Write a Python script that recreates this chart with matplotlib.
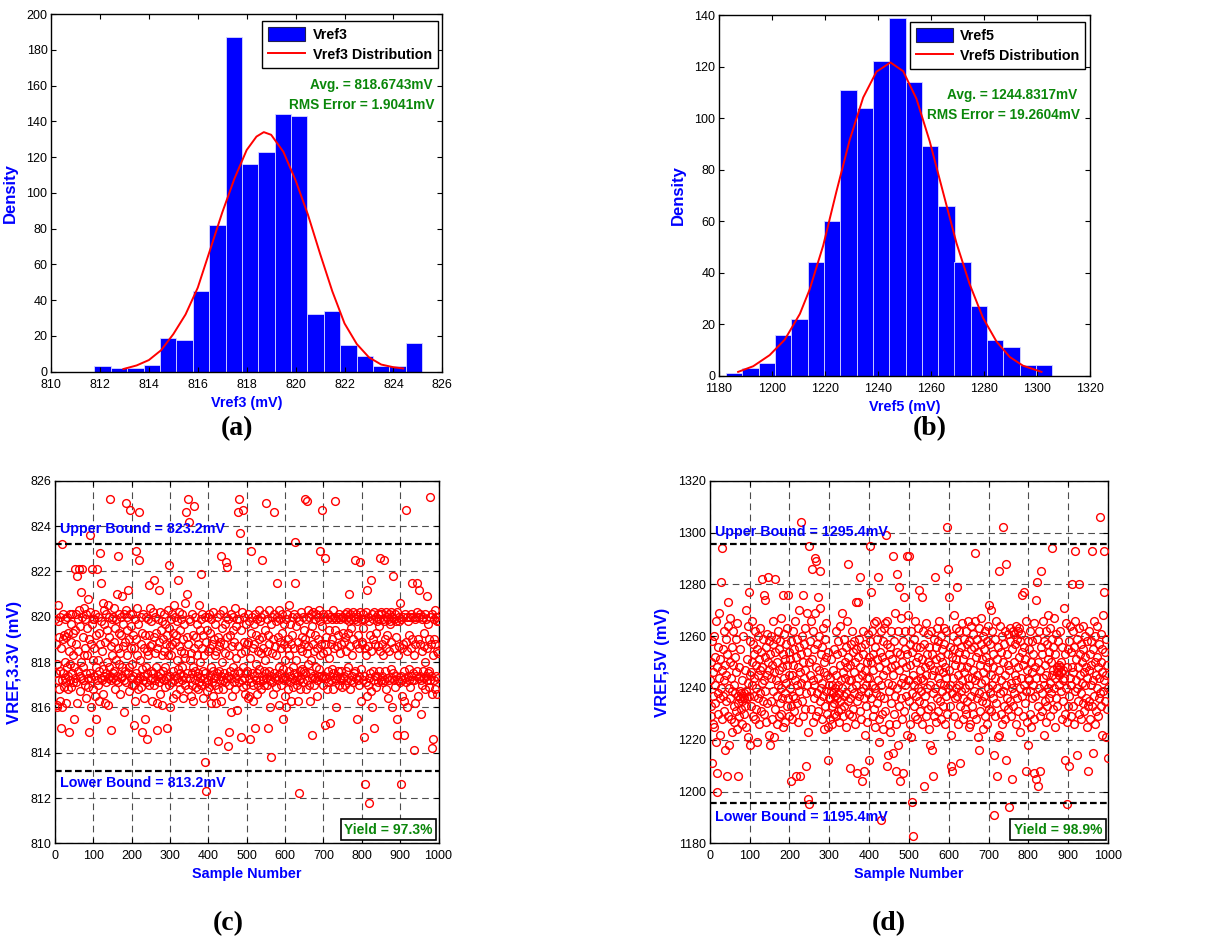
import numpy as np
import matplotlib
matplotlib.use("Agg")
import matplotlib.pyplot as plt
from matplotlib.patches import Patch
from matplotlib.lines import Line2D

plt.rcParams['font.family'] = ['Liberation Sans', 'DejaVu Sans']

# ---- (a) histogram of Vref3 ----
vref3_bins = [812.11, 812.78, 813.45, 814.12, 814.79, 815.46, 816.13, 816.80, 817.47, 818.14,
              818.81, 819.48, 820.15, 820.82, 821.49, 822.16, 822.83, 823.50, 824.17, 824.84]
vref3_counts = [3, 2, 2, 3.5, 19, 18, 45, 82, 187, 116, 123, 144, 143, 32, 34, 15, 9, 3, 3, 16]
vref3_binw = 0.671
vref3_fit_x = [812.96, 813.5, 814.0, 814.5, 815.0, 815.5, 816.0, 816.5, 817.0, 817.5, 818.0, 818.4,
               818.7, 819.0, 819.5, 820.0, 820.5, 821.0, 821.5, 822.0, 822.5, 823.0, 823.5, 824.0, 824.4]
vref3_fit_y = [1.5, 3.5, 6.5, 12, 21, 32, 47, 68, 89, 108, 124, 131.5,
               134, 132.5, 123, 107, 88, 66, 45, 27, 15.5, 8, 4, 2.5, 1.8]

# ---- (b) histogram of Vref5 ----
vref5_bins = [1185.9, 1192.0, 1198.2, 1204.3, 1210.5, 1216.6, 1222.8, 1229.0, 1235.1, 1241.3,
              1247.4, 1253.6, 1259.7, 1265.9, 1272.0, 1278.2, 1284.3, 1290.5, 1296.6, 1302.8]
vref5_counts = [1, 3, 5, 16, 22, 44, 60, 111, 104, 122, 139, 114, 89, 66, 44, 27, 14, 11, 4, 4]
vref5_binw = 6.155
vref5_fit_x = [1187.3, 1193, 1199.2, 1204.9, 1210.6, 1214.3, 1219.4, 1224.4, 1229.4, 1234.5, 1239.5, 1244.8,
               1249.6, 1254.6, 1259.6, 1264.7, 1269.7, 1274.7, 1279.7, 1284.8, 1289.8, 1294.8, 1301.8]
vref5_fit_y = [1.5, 3.7, 8, 14, 24, 33.5, 50.5, 71.5, 91.5, 108, 118, 121.6,
               118.2, 107.5, 91, 71, 51.5, 35.5, 22.5, 13.3, 7.3, 3.9, 1.5]

# ---- (c) VREF,3.3V per sample, in units of 0.1 mV ----
vref3_samples_01mV = """
8199 8188 8175 8161 8179 8160 8172 8198 8205 8168 8191 8176 8200 8163 8186 8151 8232 8172 8160 8190
8175 8201 8169 8192 8180 8173 8199 8162 8191 8171 8200 8178 8168 8193 8174 8185 8149 8172 8201 8179
8197 8169 8189 8175 8201 8183 8171 8193 8155 8178
8221 8194 8173 8201 8188 8171 8218 8162 8199 8176 8185 8203 8221 8174 8196 8167 8180 8211 8173 8200
8221 8178 8191 8172 8204 8183 8170 8199 8186 8164 8201 8175 8195 8183 8173 8208 8169 8190 8149 8236
8175 8202 8160 8188 8173 8197 8221 8168 8181 8199
8199 8174 8186 8165 8201 8155 8178 8192 8172 8221 8181 8170 8200 8176 8193 8163 8188 8228 8173 8215
8198 8172 8185 8206 8177 8166 8197 8174 8203 8162 8189 8175 8201 8171 8194 8180 8205 8173 8161 8191
8178 8200 8174 8252 8187 8150 8172 8199 8183 8175
8200 8173 8189 8176 8204 8168 8195 8172 8181 8199 8174 8210 8186 8227 8171 8201 8179 8193 8166 8184
8200 8173 8192 8178 8209 8174 8197 8187 8158 8201 8172 8189 8176 8203 8250 8171 8194 8183 8200 8175
8212 8167 8190 8178 8247 8201 8173 8186 8196 8170
8179 8201 8174 8192 8152 8170 8186 8199 8163 8175 8229 8190 8172 8204 8183 8168 8197 8173 8246 8225
8181 8174 8200 8169 8188 8177 8193 8149 8172 8201 8186 8174 8164 8155 8192 8178 8200 8171 8185 8146
8175 8199 8183 8170 8214 8192 8172 8204 8187 8176
8198 8173 8188 8163 8202 8175 8191 8216 8170 8184 8200 8172 8193 8178 8162 8150 8186 8174 8199 8212
8171 8189 8202 8175 8166 8194 8173 8183 8198 8161 8176 8190 8201 8172 8185 8169 8197 8178 8188 8173
8151 8192 8174 8203 8183 8223 8170 8195 8160 8187
8174 8199 8183 8171 8201 8188 8164 8193 8176 8205 8172 8189 8200 8174 8166 8192 8181 8173 8198 8177
8216 8171 8187 8202 8168 8194 8175 8185 8199 8172 8178 8201 8164 8190 8174 8184 8197 8170 8206 8182
8173 8246 8191 8175 8210 8252 8188 8168 8242 8199
8181 8173 8198 8165 8184 8175 8201 8170 8192 8178 8163 8249 8186 8172 8200 8176 8191 8169 8183 8174
8197 8168 8188 8175 8205 8171 8194 8180 8173 8199 8219 8170 8186 8201 8176 8164 8192 8173 8183 8200
8136 8175 8189 8123 8171 8194 8167 8185 8200 8172
8201 8169 8186 8174 8193 8178 8162 8199 8171 8188 8176 8202 8165 8190 8173 8183 8197 8170 8162 8185
8174 8200 8175 8145 8191 8168 8187 8176 8201 8172 8189 8227 8174 8163 8195 8180 8172 8203 8168 8188
8175 8197 8171 8184 8200 8224 8173 8222 8191 8143
8174 8199 8149 8183 8170 8192 8176 8158 8201 8173 8187 8165 8194 8178 8200 8171 8189 8175 8204 8168
8182 8196 8173 8159 8199 8176 8187 8246 8171 8252 8199 8175 8237 8184 8147 8194 8172 8202 8169 8247
8178 8189 8173 8200 8166 8185 8175 8197 8170 8188
8176 8201 8164 8189 8173 8165 8198 8146 8182 8171 8193 8229 8175 8200 8170 8186 8163 8197 8174 8188
8201 8151 8172 8192 8179 8166 8199 8175 8185 8170 8203 8177 8190 8172 8198 8168 8184 8200 8174 8191
8225 8172 8186 8176 8201 8170 8194 8181 8250 8175
8173 8199 8185 8170 8192 8151 8176 8203 8188 8172 8160 8138 8197 8174 8184 8200 8171 8190 8166 8201
8175 8246 8187 8173 8198 8169 8183 8200 8215 8174 8191 8172 8203 8178 8161 8189 8175 8199 8170 8186
8201 8173 8193 8177 8155 8188 8172 8197 8165 8181
8174 8160 8199 8186 8172 8201 8168 8190 8176 8205 8183 8171 8197 8174 8188 8163 8200 8173 8192 8178
8169 8201 8186 8175 8233 8215 8172 8196 8181 8170 8200 8174 8163 8189 8172 8122 8198 8176 8186 8168
8202 8173 8191 8177 8185 8200 8171 8194 8176 8188
8252 8175 8190 8168 8199 8184 8251 8172 8203 8179 8187 8170 8200 8175 8193 8163 8181 8201 8173 8196
8148 8174 8188 8202 8170 8185 8199 8173 8192 8178 8201 8172 8186 8165 8200 8174 8190 8177 8203 8229
8183 8198 8174 8188 8247 8173 8196 8170 8184 8201
8200 8174 8188 8226 8152 8191 8173 8199 8168 8185 8176 8201 8171 8194 8182 8174 8200 8153 8188 8172
8199 8177 8190 8168 8203 8175 8186 8200 8173 8194 8251 8172 8160 8199 8187 8174 8200 8176 8192 8170
8201 8184 8173 8199 8172 8188 8176 8200 8169 8193
8200 8173 8189 8174 8201 8170 8191 8199 8176 8185 8202 8172 8200 8178 8193 8210 8198 8168 8187 8201
8172 8195 8199 8174 8183 8202 8171 8190 8200 8175 8225 8199 8176 8188 8201 8173 8155 8198 8172 8192
8200 8174 8186 8170 8202 8224 8177 8199 8163 8189
8188 8201 8172 8195 8147 8174 8199 8186 8126 8171 8202 8183 8165 8212 8170 8200 8187 8173 8118 8198
8175 8192 8216 8167 8185 8201 8160 8190 8199 8176 8172 8151 8202 8188 8174 8200 8169 8193 8198 8174
8187 8201 8171 8196 8176 8199 8185 8226 8172 8202
8201 8174 8188 8171 8199 8183 8225 8172 8198 8190 8176 8202 8168 8186 8200 8173 8192 8199 8164 8185
8201 8172 8197 8198 8177 8189 8202 8173 8160 8200 8218 8175 8199 8186 8172 8201 8169 8191 8198 8174
8155 8148 8202 8183 8172 8198 8187 8200 8171 8206
8126 8174 8199 8186 8165 8172 8200 8188 8163 8176 8148 8201 8173 8247 8189 8171 8200 8160 8185 8174
8198 8172 8192 8177 8200 8169 8186 8174 8201 8172 8190 8215 8175 8200 8141 8183 8172 8199 8162 8188
8200 8174 8215 8176 8202 8165 8190 8173 8200 8212
8201 8174 8188 8157 8172 8199 8185 8170 8200 8176 8193 8173 8187 8201 8168 8180 8174 8199 8186 8172
8209 8175 8197 8169 8190 8176 8200 8172 8253 8188 8174 8201 8166 8142 8183 8146 8199 8172 8190 8203
8168 8188 8174 8200 8166 8185 8198 8173 8184 8198
"""

# ---- (d) VREF,5V per sample, mV ----
vref5_samples_mV = """
1243 1229 1250 1233 1211 1258 1226 1246 1237 1260 1225 1252 1241 1234 1266 1219 1207 1200 1248 1238
1256 1230 1244 1269 1236 1251 1222 1240 1281 1294 1247 1228 1255 1237 1262 1243 1231 1249 1216 1259
1235 1245 1206 1253 1229 1264 1273 1240 1218 1250
1267 1236 1244 1228 1256 1239 1223 1249 1262 1233 1241 1227 1252 1238 1259 1231 1246 1265 1224 1206
1237 1234 1248 1229 1239 1236 1255 1232 1238 1226 1235 1243 1237 1260 1230 1238 1236 1247 1233 1270
1239 1225 1251 1236 1242 1221 1264 1237 1277 1245
1218 1258 1246 1233 1266 1241 1250 1229 1257 1244 1237 1253 1228 1262 1240 1249 1232 1255 1219 1245
1260 1236 1251 1226 1247 1263 1238 1254 1231 1242 1282 1248 1235 1259 1243 1276 1230 1252 1274 1239
1256 1227 1245 1261 1234 1250 1283 1222 1247 1258
1253 1218 1244 1260 1235 1249 1228 1257 1239 1266 1246 1221 1254 1232 1282 1243 1259 1226 1250 1237
1262 1241 1229 1255 1247 1234 1258 1240 1267 1230 1248 1236 1253 1225 1276 1244 1261 1238 1251 1227
1257 1242 1233 1263 1249 1276 1236 1254 1245 1229
1240 1251 1233 1204 1258 1245 1228 1262 1237 1249 1255 1231 1243 1266 1236 1252 1206 1241 1259 1234
1248 1227 1256 1239 1270 1246 1206 1253 1304 1242 1260 1235 1250 1229 1276 1244 1257 1232 1247 1263
1210 1238 1254 1269 1241 1223 1197 1195 1295 1250
1245 1258 1232 1266 1239 1286 1251 1227 1262 1243 1236 1255 1241 1269 1290 1229 1248 1289 1238 1257
1275 1244 1231 1260 1247 1271 1235 1285 1253 1240 1228 1256 1242 1263 1237 1250 1224 1246 1259 1233
1252 1239 1265 1230 1245 1225 1254 1212 1241 1236
1236 1244 1228 1239 1251 1233 1241 1226 1238 1247 1234 1255 1230 1240 1237 1262 1229 1245 1236 1253
1241 1231 1258 1238 1227 1249 1235 1264 1243 1232 1269 1240 1254 1229 1246 1237 1259 1233 1250 1244
1238 1256 1225 1248 1266 1288 1235 1252 1243 1230
1209 1249 1236 1257 1243 1229 1262 1240 1254 1232 1246 1238 1258 1226 1250 1273 1241 1255 1207 1235
1252 1244 1273 1237 1259 1231 1248 1283 1239 1256 1228 1245 1204 1253 1240 1262 1208 1236 1247 1222
1257 1241 1233 1250 1227 1244 1261 1238 1252 1212
1244 1258 1295 1236 1250 1277 1241 1262 1229 1253 1247 1265 1232 1256 1240 1225 1266 1238 1251 1234
1259 1243 1283 1228 1248 1219 1254 1237 1262 1189 1241 1252 1230 1258 1245 1224 1263 1236 1250 1231
1265 1247 1299 1257 1210 1266 1242 1214 1253 1226
1239 1256 1223 1248 1262 1234 1251 1241 1215 1291 1245 1230 1258 1237 1269 1249 1226 1208 1254 1284
1240 1262 1218 1247 1233 1279 1253 1204 1242 1267 1236 1250 1228 1258 1207 1244 1275 1231 1255 1241
1262 1237 1248 1222 1291 1253 1243 1268 1291 1235
1243 1257 1226 1249 1221 1262 1238 1254 1196 1183 1245 1233 1259 1241 1266 1229 1250 1237 1256 1243
1228 1252 1240 1263 1235 1278 1247 1231 1256 1244 1239 1275 1251 1226 1262 1243 1234 1257 1202 1248
1237 1265 1245 1229 1253 1240 1261 1232 1250 1224
1256 1241 1218 1249 1233 1262 1245 1216 1253 1206 1238 1259 1229 1247 1283 1240 1256 1227 1251 1236
1263 1244 1231 1258 1247 1266 1235 1252 1242 1260 1228 1250 1239 1255 1246 1233 1263 1241 1257 1226
1248 1237 1262 1244 1302 1230 1286 1253 1240 1275
1247 1233 1256 1241 1222 1210 1252 1238 1208 1260 1244 1268 1229 1255 1236 1249 1263 1240 1251 1279
1237 1258 1245 1226 1254 1241 1262 1233 1211 1248 1256 1239 1265 1243 1228 1251 1236 1259 1246 1232
1253 1240 1262 1230 1248 1257 1235 1266 1244 1225
1258 1241 1250 1226 1264 1237 1255 1244 1233 1261 1247 1230 1256 1239 1266 1292 1243 1228 1252 1236
1259 1245 1221 1254 1238 1216 1263 1249 1231 1257 1242 1267 1235 1251 1224 1260 1246 1237 1255 1229
1262 1243 1252 1234 1248 1226 1258 1240 1264 1232
1250 1272 1238 1257 1245 1270 1231 1262 1241 1253 1236 1248 1214 1191 1259 1229 1244 1266 1234 1251
1240 1206 1221 1256 1285 1222 1247 1238 1264 1230 1254 1243 1226 1260 1302 1239 1250 1233 1257 1245
1228 1262 1288 1241 1212 1253 1236 1249 1261 1232
1247 1194 1258 1235 1263 1242 1229 1205 1255 1240 1262 1233 1250 1261 1238 1257 1245 1226 1264 1243
1259 1236 1262 1248 1231 1263 1252 1240 1258 1223 1244 1261 1237 1254 1276 1229 1249 1277 1241 1256
1234 1251 1208 1266 1239 1247 1227 1258 1244 1218
1243 1255 1230 1262 1239 1250 1225 1258 1246 1236 1253 1241 1265 1228 1207 1248 1237 1274 1244 1205
1259 1281 1233 1202 1250 1240 1262 1229 1208 1247 1256 1285 1238 1253 1231 1266 1244 1222 1258 1241
1249 1235 1262 1227 1245 1257 1233 1251 1240 1268
1236 1254 1242 1263 1229 1250 1238 1259 1245 1294 1232 1256 1247 1267 1240 1225 1253 1244 1261 1236
1248 1233 1246 1258 1247 1241 1249 1245 1248 1262 1239 1250 1246 1228 1256 1243 1247 1235 1271 1244
1230 1212 1253 1240 1265 1227 1248 1195 1255 1233
1210 1258 1237 1264 1244 1229 1254 1241 1280 1248 1233 1262 1246 1226 1256 1239 1266 1293 1243 1251
1214 1240 1259 1235 1248 1263 1280 1230 1253 1245 1238 1257 1228 1250 1242 1264 1234 1255 1246 1231
1260 1241 1252 1236 1248 1225 1258 1244 1208 1233
1247 1262 1235 1253 1228 1249 1241 1258 1233 1293 1215 1255 1243 1266 1237 1250 1226 1260 1245 1231
1252 1240 1264 1229 1248 1236 1257 1244 1306 1238 1261 1233 1250 1222 1246 1255 1239 1268 1243 1293
1277 1235 1254 1221 1245 1259 1232 1249 1240 1213
"""

vref3_samples = np.array(vref3_samples_01mV.split(), dtype=float) / 10.0
vref5_samples = np.array(vref5_samples_mV.split(), dtype=float)

BLUE = '#0000ff'
GREEN = '#0a870a'
SERIF = ['Liberation Serif', 'DejaVu Serif']


def matlab_axes(ax):
    ax.tick_params(direction='in', top=True, right=True, length=3.5, width=0.8, labelsize=9)
    ax.tick_params(axis='x', pad=5)
    ax.tick_params(axis='y', pad=2.5)
    for s in ax.spines.values():
        s.set_linewidth(1.0)


def hist_panel(ax, centers, counts, binw, fit_x, fit_y, name, avg, rms, xlim, ylim, xticks, yticks, tpos):
    ax.bar(centers, counts, width=binw, color=BLUE, edgecolor='#d8d8ff', linewidth=0.6)
    ax.plot(fit_x, fit_y, color='red', linewidth=1.4)
    ax.set_xlim(*xlim)
    ax.set_ylim(*ylim)
    ax.set_xticks(xticks)
    ax.set_yticks(yticks)
    matlab_axes(ax)
    ax.set_xlabel(name + ' (mV)', color=BLUE, fontsize=10.4, fontweight='bold', labelpad=3.5)
    ax.set_ylabel('Density', color=BLUE, fontsize=12, fontweight='bold', labelpad=6)
    handles = [Patch(facecolor=BLUE, edgecolor='#202050', linewidth=0.8),
               Line2D([0], [0], color='red', linewidth=1.4)]
    leg = ax.legend(handles, [name, name + ' Distribution'], loc='upper right',
                    bbox_to_anchor=(0.988, 0.982), borderaxespad=0, fancybox=False,
                    framealpha=1, edgecolor='black', handlelength=2.6, handleheight=1.15,
                    labelspacing=0.38, borderpad=0.42, handletextpad=0.5,
                    prop={'weight': 'bold', 'size': 10.3})
    leg.get_frame().set_linewidth(1.0)
    ax.text(tpos[0], tpos[1], 'Avg. = %smV' % avg, transform=ax.transAxes, ha='right', va='center',
            color=GREEN, fontsize=9.8, fontweight='bold')
    ax.text(tpos[2], tpos[3], 'RMS Error = %smV' % rms, transform=ax.transAxes, ha='right', va='center',
            color=GREEN, fontsize=9.8, fontweight='bold')


def scatter_panel(ax, samples, ylabel, upper, lower, ylim, yticks, up_y, lo_y, yield_txt):
    n = np.arange(1, len(samples) + 1)
    ax.plot(n, samples, 'o', markerfacecolor='none', markeredgecolor='red',
            markersize=5.6, markeredgewidth=1.0, zorder=3)
    ax.axhline(upper, color='black', linestyle=(0, (3, 1.5)), linewidth=1.6, zorder=4)
    ax.axhline(lower, color='black', linestyle=(0, (3, 1.5)), linewidth=1.6, zorder=4)
    ax.set_xlim(0, 1000)
    ax.set_ylim(*ylim)
    ax.set_xticks(range(0, 1001, 100))
    ax.set_yticks(yticks)
    ax.grid(True, color='0.3', linestyle=(0, (6, 4)), linewidth=0.8, zorder=1)
    ax.set_axisbelow(True)
    matlab_axes(ax)
    ax.set_xlabel('Sample Number', color=BLUE, fontsize=10.4, fontweight='bold', labelpad=3.5)
    ax.set_ylabel(ylabel, color=BLUE, fontsize=12, fontweight='bold', labelpad=6)
    ax.text(12, up_y, 'Upper Bound = %gmV' % upper, color=BLUE, fontsize=10.3,
            fontweight='bold', va='center', ha='left', zorder=5)
    ax.text(12, lo_y, 'Lower Bound = %gmV' % lower, color=BLUE, fontsize=10.3,
            fontweight='bold', va='center', ha='left', zorder=5)
    ax.text(0.985, 0.018, yield_txt, transform=ax.transAxes, ha='right', va='bottom',
            color=GREEN, fontsize=10, fontweight='bold', zorder=6,
            bbox=dict(boxstyle='square,pad=0.25', facecolor='white', edgecolor='black', linewidth=1.2))


fig = plt.figure(figsize=(12.06, 9.41), dpi=100)

ax_a = fig.add_axes([0.0423, 0.605, 0.3245, 0.380])
hist_panel(ax_a, vref3_bins, vref3_counts, vref3_binw, vref3_fit_x, vref3_fit_y, 'Vref3',
           '818.6743', '1.9041', (810, 826), (0, 200), range(810, 827, 2), range(0, 201, 20),
           (0.974, 0.8015, 0.979, 0.746))

ax_b = fig.add_axes([0.596, 0.6007, 0.3076, 0.3833])
hist_panel(ax_b, vref5_bins, vref5_counts, vref5_binw, vref5_fit_x, vref5_fit_y, 'Vref5',
           '1244.8317', '19.2604', (1180, 1320), (0, 140), range(1180, 1321, 20), range(0, 141, 20),
           (0.966, 0.778, 0.973, 0.723))

ax_c = fig.add_axes([0.0456, 0.1038, 0.318, 0.3853])
scatter_panel(ax_c, vref3_samples, 'VREF,3.3V (mV)', 823.2, 813.2, (810, 826), range(810, 827, 2),
              823.85, 812.65, 'Yield = 97.3%')

ax_d = fig.add_axes([0.5885, 0.1038, 0.3303, 0.3853])
scatter_panel(ax_d, vref5_samples, 'VREF,5V (mV)', 1295.4, 1195.4, (1180, 1320), range(1180, 1321, 20),
              1300.1, 1190.0, 'Yield = 98.9%')

for lbl, x, y in [('(a)', 0.1965, 0.545), ('(b)', 0.771, 0.545), ('(c)', 0.189, 0.019), ('(d)', 0.737, 0.019)]:
    fig.text(x, y, lbl, ha='center', va='center', fontsize=20, fontweight='bold', family=SERIF)

fig.savefig('out.png', dpi=100)
